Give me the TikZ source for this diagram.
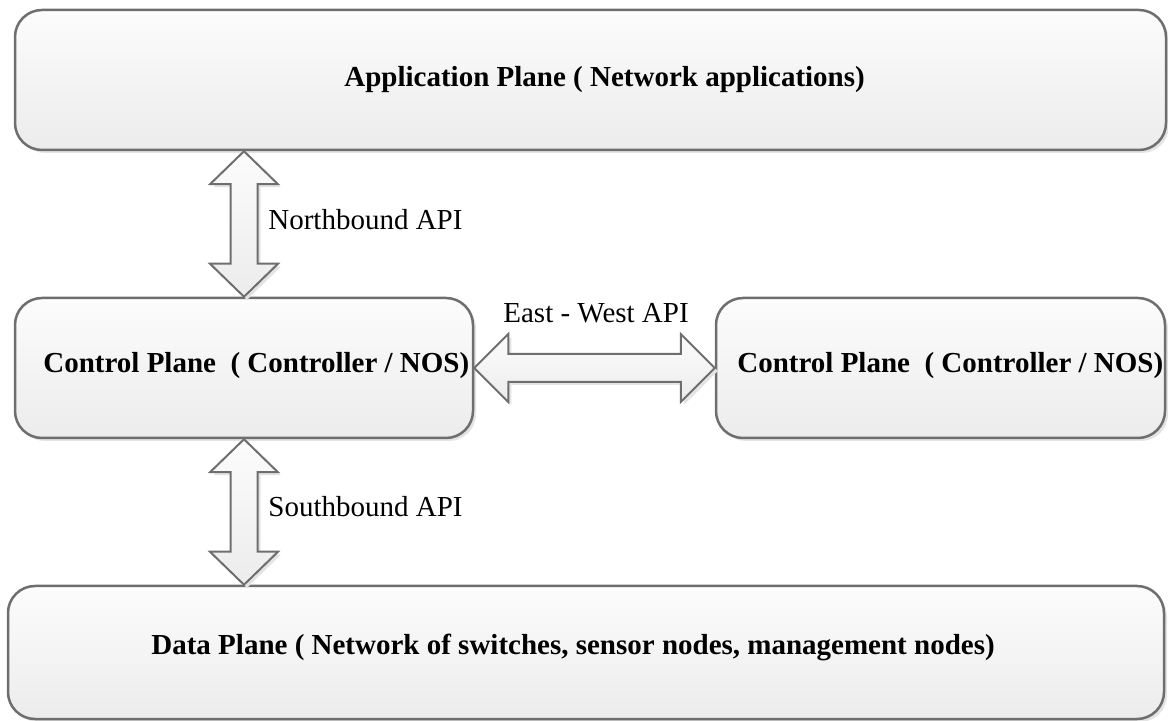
\documentclass[tikz,border=0pt]{standalone}
\usepackage{fontspec}
\setmainfont{Liberation Serif}
\usetikzlibrary{shadows,calc}
\definecolor{edge}{HTML}{6E6E6E}
\definecolor{fillTop}{HTML}{FCFCFC}
\definecolor{fillBot}{HTML}{ECECEC}
\definecolor{shade}{HTML}{E4E4E4}
\tikzset{
  plane/.style={rectangle, rounded corners=13.5pt, draw=edge, line width=1.25pt,
    top color=fillTop, bottom color=fillBot, inner sep=0pt,
    drop shadow={shadow xshift=1.5pt, shadow yshift=-1.5pt, fill=shade, opacity=1}},
  title/.style={font=\fontsize{14.5}{17}\selectfont\bfseries, anchor=base west, inner sep=0pt},
  api/.style={font=\fontsize{14.5}{17}\selectfont, anchor=base west, inner sep=0pt},
  blockarrow/.style={draw=edge, line width=1pt, line join=miter,
    top color=fillTop, bottom color=fillBot,
    drop shadow={shadow xshift=1.5pt, shadow yshift=-1.5pt, fill=shade, opacity=1}}
}
% vertical double block arrow between two points (top, bottom)
\newcommand\vblockarrow[2]{%
  \draw[blockarrow] let \p1=(#1), \p2=(#2) in
    (\x1,\y1) -- (\x1+17pt,\y1-16.5pt) -- (\x1+6.75pt,\y1-16.5pt)
    -- (\x1+6.75pt,\y2+16.5pt) -- (\x1+17pt,\y2+16.5pt) -- (\x1,\y2)
    -- (\x1-17pt,\y2+16.5pt) -- (\x1-6.75pt,\y2+16.5pt)
    -- (\x1-6.75pt,\y1-16.5pt) -- (\x1-17pt,\y1-16.5pt) -- cycle;}
% horizontal double block arrow between two points (left, right)
\newcommand\hblockarrow[2]{%
  \draw[blockarrow] let \p1=(#1), \p2=(#2) in
    (\x1,\y1) -- (\x1+17pt,\y1+17pt) -- (\x1+17pt,\y1+7pt)
    -- (\x2-17pt,\y1+7pt) -- (\x2-17pt,\y1+17pt) -- (\x2,\y1)
    -- (\x2-17pt,\y1-17pt) -- (\x2-17pt,\y1-7pt)
    -- (\x1+17pt,\y1-7pt) -- (\x1+17pt,\y1-17pt) -- cycle;}
\begin{document}
\begin{tikzpicture}[x=0.5pt, y=-0.5pt]
  \useasboundingbox (0,0) rectangle (1168,721);

  % the four planes
  \node[plane, minimum width=575.5pt, minimum height=70pt] (app) at (590.5,80) {};
  \node[plane, minimum width=229pt, minimum height=70pt] (ctlL) at (244,368) {};
  \node[plane, minimum width=224.5pt, minimum height=70pt] (ctlR) at (940.5,368) {};
  \node[plane, minimum width=578pt, minimum height=66.5pt] (data) at (586,652.5) {};

  % plane titles
  \node[title] (appText) at (344,87) {Application Plane ( Network applications)};
  \node[title] (ctlLText) at (43,373) {Control Plane\ \ ( Controller / NOS)};
  \node[title] (ctlRText) at (737,373) {Control Plane\ \ ( Controller / NOS)};
  \node[title] (dataText) at (151,654) {Data Plane ( Network of switches, sensor nodes, management nodes)};

  % interfaces between planes
  \coordinate (nbTop) at (ctlL.north |- app.south);
  \coordinate (sbBot) at (ctlL.south |- data.north);
  \vblockarrow{nbTop}{ctlL.north}
  \vblockarrow{ctlL.south}{sbBot}
  \hblockarrow{ctlL.east}{ctlR.west}

  \node[api] (nbText) at (268,230) {Northbound API};
  \node[api] (sbText) at (268,517) {Southbound API};
  \node[api] (ewText) at (503,323) {East - West API};
\end{tikzpicture}
\end{document}
